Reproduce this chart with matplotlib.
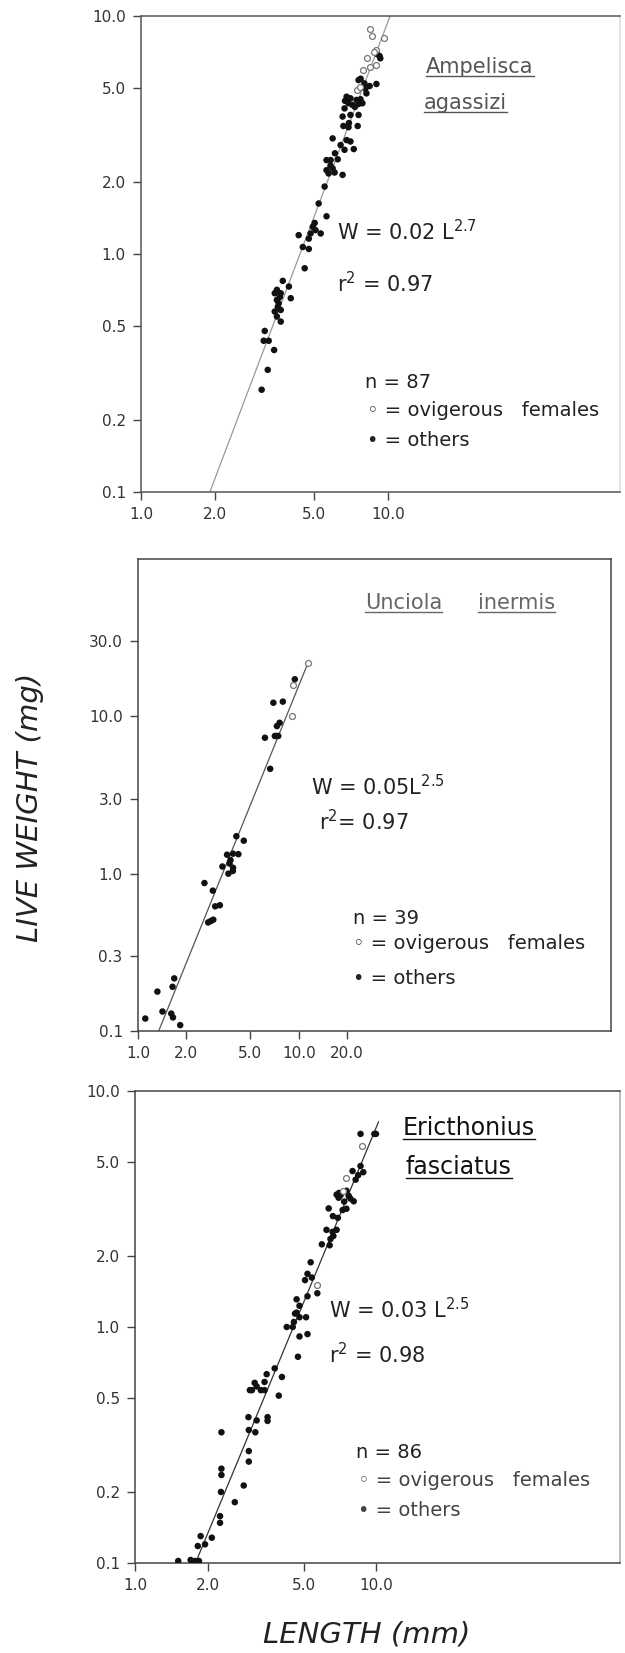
import numpy as np
import matplotlib.pyplot as plt
from matplotlib.lines import Line2D
from matplotlib.ticker import NullLocator, FixedLocator, FixedFormatter
from matplotlib.transforms import IdentityTransform

plt.rcParams['font.family'] = ['DejaVu Sans']
plt.rcParams['mathtext.fontset'] = 'dejavusans'

W_PX, H_PX = 625, 1653

# ---------------- Ampelisca agassizi ----------------
amp_ovi_len = [8.49, 8.65, 9.60, 8.98, 8.81, 8.24, 8.98, 8.49, 7.94, 7.46, 7.74]
amp_ovi_wt = [8.79, 8.24, 8.06, 7.20, 7.08, 6.68, 6.22, 6.12, 5.93, 4.89, 5.05]
amp_len = [9.04, 9.25, 9.31, 7.60, 8.03, 8.43, 8.98, 8.18, 6.80, 7.05, 7.46, 7.74,
           6.92, 7.18, 7.60, 7.88, 6.67, 6.55, 7.05, 7.60, 6.60, 6.92, 7.54, 5.97,
           6.80, 7.05, 6.43, 6.67, 7.27, 5.64, 5.86, 6.26, 5.64, 5.97, 5.75, 6.08,
           6.55, 5.54, 5.24, 5.64, 5.05, 4.96, 5.09, 5.34, 4.86, 4.35, 4.78, 4.52,
           4.78, 4.60, 3.75, 3.55, 3.48, 3.68, 3.97, 4.04, 3.55, 3.61, 3.48, 3.68,
           3.55, 3.68, 3.17, 3.14, 3.29, 3.46, 3.26, 3.08, 7.75, 8.10, 6.70, 7.35,
           6.95, 6.10, 5.85, 3.65, 3.58]
amp_wt = [6.92, 6.79, 6.64, 5.38, 5.21, 5.08, 5.18, 4.73, 4.58, 4.51, 4.44, 4.47,
          4.30, 4.23, 4.27, 4.30, 4.09, 3.78, 3.84, 3.84, 3.45, 3.41, 3.45, 3.06,
          3.01, 2.97, 2.87, 2.74, 2.76, 2.48, 2.48, 2.50, 2.25, 2.29, 2.18, 2.20,
          2.15, 1.92, 1.63, 1.44, 1.35, 1.30, 1.26, 1.22, 1.22, 1.20, 1.16, 1.07,
          1.05, 0.871, 0.771, 0.707, 0.684, 0.684, 0.730, 0.652, 0.641, 0.621, 0.573, 0.582,
          0.546, 0.520, 0.475, 0.432, 0.432, 0.395, 0.326, 0.269, 5.45, 4.95, 4.40, 4.15,
          3.55, 2.65, 2.35, 0.66, 0.60]
amp_fit_len = [1.90, 10.2]
amp_fit_wt = [0.1, 10.0]
amp_yticks = [10.0, 5.0, 2.0, 1.0, 0.5, 0.2, 0.1]
amp_ylabels = ['10.0', '5.0', '2.0', '1.0', '0.5', '0.2', '0.1']
amp_xticks = [1.0, 2.0, 5.0, 10.0]
amp_xlabels = ['1.0', '2.0', '5.0', '10.0']

# ---------------- Unciola inermis ----------------
unc_ovi_len = [11.4, 9.18, 9.08]
unc_ovi_wt = [21.8, 15.8, 10.1]
unc_len = [9.45, 6.95, 7.96, 6.16, 7.10, 7.45, 7.31, 7.60, 7.25, 6.64,
           4.09, 4.55, 3.35, 3.58, 3.90, 4.21, 3.76, 3.71, 3.65, 3.89,
           3.90, 2.59, 2.92, 3.02, 3.23, 2.73, 2.84, 2.94, 1.11, 1.32,
           1.42, 1.61, 1.65, 1.83, 1.64, 1.68]
unc_wt = [17.2, 12.2, 12.4, 7.31, 7.50, 7.50, 8.67, 9.10, 7.50, 4.64,
          1.73, 1.62, 1.11, 1.32, 1.34, 1.33, 1.22, 1.16, 1.00, 1.04,
          1.09, 0.872, 0.780, 0.62, 0.63, 0.49, 0.50, 0.51, 0.120, 0.178,
          0.133, 0.129, 0.122, 0.109, 0.191, 0.216]
unc_fit_len = [1.345, 11.4]
unc_fit_wt = [0.1, 21.8]
unc_yticks = [30.0, 10.0, 3.0, 1.0, 0.3, 0.1]
unc_ylabels = ['30.0', '10.0', '3.0', '1.0', '0.3', '0.1']
unc_xticks = [1.0, 2.0, 5.0, 10.0, 20.0]
unc_xlabels = ['1.0', '2.0', '5.0', '10.0', '20.0']

# ---------------- Ericthonius fasciatus ----------------
eri_ovi_len = [8.75, 7.46, 7.24, 5.69]
eri_ovi_wt = [5.86, 4.29, 3.78, 1.50]
eri_len = [8.59, 9.80, 9.95, 8.59, 7.96, 8.82, 8.20, 7.51, 6.84, 6.97, 7.10, 7.67,
           7.80, 7.24, 7.51, 8.05, 6.34, 6.92, 6.21, 6.58, 6.84, 6.45, 6.63, 5.94,
           6.40, 5.34, 5.18, 5.06, 5.69, 5.18, 4.67, 4.80, 4.67, 4.60, 4.80, 5.11,
           4.25, 4.50, 4.80, 5.18, 4.73, 3.79, 4.06, 3.51, 3.44, 3.13, 3.19, 3.32,
           2.99, 3.05, 3.44, 3.94, 2.95, 3.19, 3.54, 3.54, 2.96, 3.15, 2.28, 2.96,
           2.96, 2.28, 2.28, 2.27, 2.82, 2.59, 2.25, 2.25, 1.87, 2.08, 1.82, 1.95,
           1.51, 1.70, 1.77, 1.84, 8.40, 7.00, 6.60, 5.40, 4.55, 7.35]
eri_wt = [6.58, 6.58, 6.58, 4.81, 4.58, 4.53, 4.21, 3.78, 3.64, 3.53, 3.62, 3.60,
          3.50, 3.13, 3.17, 3.41, 3.18, 2.90, 2.58, 2.53, 2.58, 2.36, 2.43, 2.24,
          2.22, 1.88, 1.68, 1.58, 1.39, 1.35, 1.31, 1.23, 1.15, 1.14, 1.10, 1.10,
          1.00, 1.00, 0.912, 0.933, 0.748, 0.668, 0.614, 0.631, 0.585, 0.58, 0.56, 0.54,
          0.54, 0.54, 0.54, 0.512, 0.415, 0.402, 0.415, 0.40, 0.366, 0.358, 0.358, 0.298,
          0.269, 0.251, 0.236, 0.200, 0.213, 0.181, 0.158, 0.148, 0.130, 0.128, 0.118, 0.120,
          0.102, 0.103, 0.102, 0.102, 4.40, 3.70, 2.95, 1.62, 1.05, 3.40]
eri_fit_len = [1.78, 10.2]
eri_fit_wt = [0.1, 7.4]
eri_yticks = [10.0, 5.0, 2.0, 1.0, 0.5, 0.2, 0.1]
eri_ylabels = ['10.0', '5.0', '2.0', '1.0', '0.5', '0.2', '0.1']
eri_xticks = [1.0, 2.0, 5.0, 10.0]
eri_xlabels = ['1.0', '2.0', '5.0', '10.0']

fig = plt.figure(figsize=(W_PX / 100, H_PX / 100), dpi=100)


def add_panel(x0, y0, x1, y1):
    return fig.add_axes([x0 / W_PX, 1 - y1 / H_PX, (x1 - x0) / W_PX, (y1 - y0) / H_PX])


def px_text(x, y, s, **kw):
    kw.setdefault('va', 'center')
    kw.setdefault('ha', 'left')
    return fig.text(x / W_PX, 1 - y / H_PX, s, **kw)


def setup(ax, xlim, ylim, xt, xl, yt, yl, frame_col):
    ax.set_xscale('log')
    ax.set_yscale('log')
    ax.set_xlim(*xlim)
    ax.set_ylim(*ylim)
    ax.xaxis.set_major_locator(FixedLocator(xt))
    ax.xaxis.set_major_formatter(FixedFormatter(xl))
    ax.yaxis.set_major_locator(FixedLocator(yt))
    ax.yaxis.set_major_formatter(FixedFormatter(yl))
    ax.xaxis.set_minor_locator(NullLocator())
    ax.yaxis.set_minor_locator(NullLocator())
    ax.tick_params(direction='out', length=6, width=1.0, colors='#444',
                   labelsize=11, labelcolor='#333', pad=5)
    for sp in ax.spines.values():
        sp.set_color(frame_col)
        sp.set_linewidth(1.1)


def draw(ax, ln, wt, oln, owt, fl, fw, line_col):
    ax.plot(fl, fw, color=line_col, lw=0.9, zorder=2)
    ax.scatter(ln, wt, s=22, color='#111', edgecolors='none', zorder=3)
    ax.scatter(oln, owt, s=18, facecolors='white', edgecolors='#777', linewidths=0.9, zorder=4)


ax1 = add_panel(141, 16, 620, 492)
setup(ax1, (1.0, 87.0), (0.1, 10.0), amp_xticks, amp_xlabels, amp_yticks, amp_ylabels, '#555')
ax1.spines['right'].set_color('#ddd')
draw(ax1, amp_len, amp_wt, amp_ovi_len, amp_ovi_wt, amp_fit_len, amp_fit_wt, '#999')

ax2 = add_panel(138, 559, 611, 1031)
setup(ax2, (1.0, 875.0), (0.1, 100.0), unc_xticks, unc_xlabels, unc_yticks, unc_ylabels, '#444')
draw(ax2, unc_len, unc_wt, unc_ovi_len, unc_ovi_wt, unc_fit_len, unc_fit_wt, '#555')

ax3 = add_panel(135, 1091, 620, 1563)
setup(ax3, (1.0, 102.0), (0.1, 10.0), eri_xticks, eri_xlabels, eri_yticks, eri_ylabels, '#444')
ax3.spines['right'].set_color('#aaa')
draw(ax3, eri_len, eri_wt, eri_ovi_len, eri_ovi_wt, eri_fit_len, eri_fit_wt, '#333')

# species names (underlined below)
names = [
    px_text(426, 67, 'Ampelisca', fontsize=15, color='#555'),
    px_text(424, 103, 'agassizi', fontsize=15, color='#555'),
    px_text(365, 603, 'Unciola', fontsize=15, color='#666'),
    px_text(478, 603, 'inermis', fontsize=15, color='#666'),
    px_text(403, 1128, 'Ericthonius', fontsize=17, color='#111'),
    px_text(406, 1167, 'fasciatus', fontsize=17, color='#111'),
]

# equations and legends
px_text(337, 232, 'W = 0.02 L$^{2.7}$', fontsize=15, color='#222')
px_text(337, 284, 'r$^2$ = 0.97', fontsize=15, color='#222')
px_text(365, 383, 'n = 87', fontsize=14, color='#222')
px_text(367, 410, '\u25e6 = ovigerous   females', fontsize=14, color='#222')
px_text(367, 440, '\u2022 = others', fontsize=14, color='#222')

px_text(311, 787, 'W = 0.05L$^{2.5}$', fontsize=15, color='#222')
px_text(319, 822, 'r$^2$= 0.97', fontsize=15, color='#222')
px_text(353, 918, 'n = 39', fontsize=14, color='#222')
px_text(353, 944, '\u25e6 = ovigerous   females', fontsize=14, color='#222')
px_text(353, 978, '\u2022 = others', fontsize=14, color='#222')

px_text(329, 1310, 'W = 0.03 L$^{2.5}$', fontsize=15, color='#222')
px_text(329, 1355, 'r$^2$ = 0.98', fontsize=15, color='#222')
px_text(356, 1452, 'n = 86', fontsize=14, color='#222')
px_text(358, 1480, '\u25e6 = ovigerous   females', fontsize=14, color='#444')
px_text(358, 1511, '\u2022 = others', fontsize=14, color='#444')

px_text(30, 807, 'LIVE WEIGHT (mg)', fontsize=21, style='italic', rotation=90,
        ha='center', color='#222')
px_text(367, 1634, 'LENGTH (mm)', fontsize=21, style='italic', ha='center', color='#222')

fig.canvas.draw()
renderer = fig.canvas.get_renderer()
for t in names:
    bb = t.get_window_extent(renderer)
    fig.add_artist(Line2D([bb.x0, bb.x1], [bb.y0 + 1, bb.y0 + 1],
                          transform=IdentityTransform(), color=t.get_color(), lw=1.0))

fig.savefig('out.png', dpi=100)
